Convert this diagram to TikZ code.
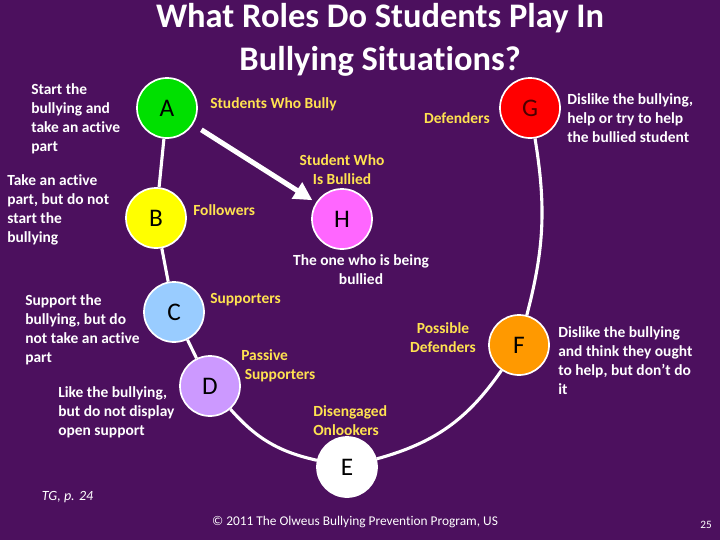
\documentclass[tikz,border=0pt]{standalone}
\usepackage{fontspec}
\setmainfont{Carlito}[Ligatures=NoCommon]
\usepackage{tikz}
\usetikzlibrary{arrows.meta, positioning}
\definecolor{BgPurple}{RGB}{76,16,94}
\definecolor{TagYellow}{RGB}{255,226,80}
\definecolor{RoleGreen}{RGB}{0,224,0}
\definecolor{RoleYellow}{RGB}{255,255,0}
\definecolor{RoleBlue}{RGB}{153,204,255}
\definecolor{RoleLilac}{RGB}{204,153,255}
\definecolor{RoleOrange}{RGB}{255,153,0}
\definecolor{RoleRed}{RGB}{255,0,0}
\definecolor{RolePink}{RGB}{255,102,255}

\begin{document}
\begin{tikzpicture}[x=0.025cm, y=-0.025cm,
      role/.style={circle, draw=white, line width=1.2pt, minimum size=1.5cm,
                   inner sep=0pt, font=\fontsize{18}{18}\selectfont},
      desc/.style={text=white, font=\fontsize{11}{13.6}\selectfont\bfseries,
                   align=left, inner sep=0pt, anchor=west},
      tag/.style={text=TagYellow, font=\fontsize{11}{13.6}\selectfont\bfseries,
                  inner sep=0pt},
      link/.style={draw=white, line width=2.2pt}
    ]
    \fill[BgPurple] (0,0) rectangle (720,540);
    \useasboundingbox (0,0) rectangle (720,540);

    % Title
    \node[text=white, font=\fontsize{24.5}{31}\selectfont\bfseries, align=center]
          (title) at (380,40) {What Roles Do Students Play In\\Bullying Situations?};

    % Circle of roles
    \node[role, fill=RoleGreen]  (A) at (167,108) {A};
    \node[role, fill=RoleYellow] (B) at (156,218) {B};
    \node[role, fill=RoleBlue]   (C) at (174,312) {C};
    \node[role, fill=RoleLilac]  (D) at (210,386) {D};
    \node[role, fill=white]      (E) at (347,467) {E};
    \node[role, fill=RoleOrange] (F) at (519,345) {F};
    \node[role, fill=RoleRed, text=black!70!red] (G) at (530,108) {G};
    \node[role, fill=RolePink]   (H) at (342,219) {H};

    \draw[link] (A) -- (B);
    \draw[link] (B) -- (C);
    \draw[link] (C) -- (D);
    \draw[link] (D) to[bend right=18] (E);
    \draw[link] (E) to[bend right=20] (F);
    \draw[link] (F) to[bend right=12] (G);

    % Bully -> bullied
    \draw[white, line width=3.6pt, shorten <=7pt, shorten >=3pt,
          -{Triangle[length=13pt, width=13pt]}] (A) -- (H);

    % Role names
    \node[tag, anchor=west] (tagA) at (210,104) {Students Who Bully};
    \node[tag, anchor=west] (tagB) at (193,210) {Followers};
    \node[tag, anchor=west] (tagC) at (210,300) {Supporters};
    \node[tag, anchor=west, align=left] (tagD) at (241,366) {Passive\\\ Supporters};
    \node[tag, anchor=west, align=left] (tagE) at (313,421) {Disengaged\\Onlookers};
    \node[tag, align=center] (tagF) at (443,338) {Possible\\Defenders};
    \node[tag, anchor=east] (tagG) at (490,118) {Defenders};
    \node[tag, align=center] (tagH) at (342,170) {Student Who\\Is Bullied};

    % Descriptions
    \node[desc] (descA) at (31,118.5) {Start the\\bullying and\\take an active\\part};
    \node[desc] (descB) at (7,210) {Take an active\\part, but do not\\start the\\bullying};
    \node[desc] (descC) at (25,330) {Support the\\bullying, but do\\not take an active\\part};
    \node[desc] (descD) at (58,412) {Like the bullying,\\but do not display\\open support};
    \node[desc] (descG) at (567,118) {Dislike the bullying,\\help or try to help\\the bullied student};
    \node[desc] (descF) at (558,360.5) {Dislike the bullying\\and think they ought\\to help, but don’t do\\it};
    \node[desc, align=center, anchor=center] (descH) at (361,269.5) {The one who is being\\bullied};

    % Footer
    \node[text=white, font=\fontsize{10}{12}\selectfont\itshape, anchor=west]
          (src) at (37,497) {TG, p. 24};
    \node[text=white, font=\fontsize{9.5}{12}\selectfont] (copy) at (355,522)
          {© 2011 The Olweus Bullying Prevention Program, US};
    \node[text=white, font=\fontsize{8}{10}\selectfont] (page) at (706,525) {25};
\end{tikzpicture}
\end{document}
